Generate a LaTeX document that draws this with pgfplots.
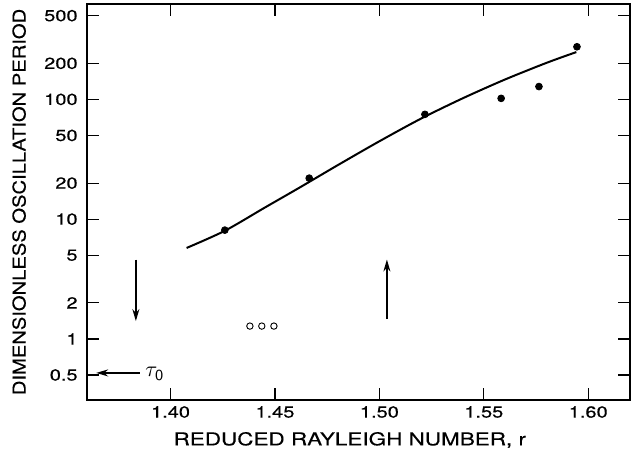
\documentclass[border=0pt]{standalone}
\usepackage{pgfplots}
\pgfplotsset{compat=1.18}
\usepackage{fontspec}
\setmainfont{TeX Gyre Heros}
\newfontfamily\tickfont[FakeStretch=1.25,FakeBold=0.3]{TeX Gyre Heros}
\newfontfamily\xlabfont[FakeStretch=1.27,FakeBold=0.3]{TeX Gyre Heros}
\newfontfamily\ylabfont[FakeStretch=1.14,FakeBold=0.3]{TeX Gyre Heros}
\usetikzlibrary{arrows.meta}
\begin{document}
\begin{tikzpicture}
\begin{axis}[
  scale only axis,
  width=271.5pt, height=198pt,
  xmin=1.36, xmax=1.62,
  ymode=log, ymin=0.309, ymax=626,
  xtick={1.40,1.45,1.50,1.55,1.60},
  xticklabels={1.40,1.45,1.50,1.55,1.60},
  ytick={0.5,1,2,5,10,20,50,100,200,500},
  yticklabels={0.5,1,2,5,10,20,50,100,200,500},
  minor ytick={},
  tick align=inside,
  major tick length=6pt,
  tick style={line width=0.6pt, black},
  axis line style={line width=0.8pt},
  ticklabel style={font=\tickfont\fontsize{8}{9}\selectfont},
  yticklabel style={anchor=east, inner sep=0pt, xshift=-4.5pt},
  xticklabel style={anchor=center, inner sep=0pt, yshift=-6pt},
  /pgf/number format/assume math mode=true,
  xlabel={REDUCED\ RAYLEIGH\ NUMBER,\ r},
  ylabel={DIMENSIONLESS\ OSCILLATION\ PERIOD},
  xlabel style={font=\xlabfont\fontsize{8.85}{10}\selectfont, at={(axis description cs:0.484,-0.101)}, anchor=center, inner sep=0pt},
  ylabel style={font=\ylabfont\fontsize{8.85}{10}\selectfont, at={(axis description cs:-0.125,0.5)}, anchor=center, inner sep=0pt},
  clip=false,
]
\path (axis description cs:-0.1602,-0.1439) rectangle (axis description cs:1.0037,1.0101);
% fitted curve
\addplot[black, line width=1pt, smooth] coordinates {
  (1.4077,5.75) (1.426,8.0) (1.445,12.45) (1.4619,18.4) (1.48,28.2) (1.50,44.7)
  (1.52,69.2) (1.54,102.3) (1.56,146.2) (1.58,201.8) (1.5943,248.3)
};
% measured points
\addplot[only marks, mark=*, mark size=1.7pt, black] coordinates {
  (1.426,8.1) (1.4664,22.0) (1.5218,75) (1.5583,102) (1.5764,128) (1.5946,275)
};
% open circles
\addplot[only marks, mark=o, mark size=1.6pt, black, line width=0.45pt] coordinates {
  (1.438,1.28) (1.4437,1.28) (1.4495,1.28)
};
% arrows
\draw[line width=0.7pt, -{Stealth[length=6pt,width=3.5pt]}] (axis cs:1.3834,4.6) -- (axis cs:1.3834,1.41);
\draw[line width=0.7pt, -{Stealth[length=6pt,width=3.5pt]}] (axis cs:1.5036,1.46) -- (axis cs:1.5036,4.6);
\draw[line width=0.7pt, -{Stealth[length=6pt,width=3.5pt]}] (axis cs:1.3853,0.52) -- (axis cs:1.3644,0.52);
\node[font=\fontsize{11}{12}\selectfont, anchor=west, inner sep=0pt] at (axis cs:1.3878,0.51) {$\tau_{\mathsf{0}}$};
\end{axis}
\end{tikzpicture}
\end{document}
